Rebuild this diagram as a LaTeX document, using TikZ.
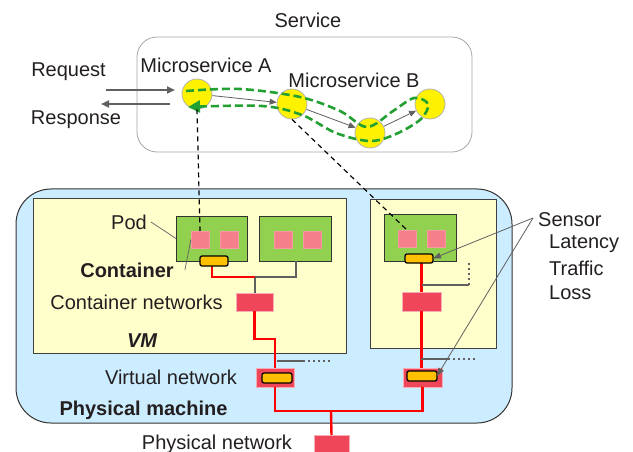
\documentclass[tikz,border=0pt]{standalone}
\usepackage{fontspec}
\setmainfont{Liberation Sans}
\usetikzlibrary{arrows.meta}
\definecolor{pmblue}{RGB}{204,236,255}
\definecolor{vmyellow}{RGB}{255,255,204}
\definecolor{podgreen}{RGB}{146,208,80}
\definecolor{ctpink}{RGB}{245,128,140}
\definecolor{netred}{RGB}{240,70,90}
\definecolor{snsorange}{RGB}{255,192,0}
\definecolor{flowgreen}{RGB}{34,160,50}
\definecolor{wiregray}{RGB}{96,96,96}
\definecolor{txtgray}{RGB}{35,31,32}
\tikzset{%
  box/.style      = {shape=rectangle, draw, inner sep=0pt, outer sep=0pt},%
  machine/.style  = {box, fill=pmblue, draw=black!80, line width=1pt, rounded corners=35pt},%
  service/.style  = {box, fill=white, draw=black!35, line width=0.8pt, rounded corners=20pt},%
  vm/.style       = {box, fill=vmyellow, draw=black!75, line width=1pt},%
  pod/.style      = {box, fill=podgreen, draw=black!80, line width=1pt},%
  ctr/.style      = {box, fill=ctpink, draw=ctpink!80!white, line width=0.6pt,%
                     minimum width=18, minimum height=17},%
  net/.style      = {box, fill=netred, draw=netred!45!white, line width=0.8pt},%
  sensor/.style   = {box, fill=snsorange, draw=black, line width=1.3pt,%
                     rounded corners=2pt, minimum width=28, minimum height=10},%
  ms/.style       = {circle, draw=black!30, fill=yellow, line width=0.8pt,%
                     inner sep=0pt, minimum size=30},%
  lbl/.style      = {inner sep=0pt, text=txtgray},%
  wire/.style     = {red, line width=2.4pt},%
  link/.style     = {wiregray, line width=2pt},%
  dotlink/.style  = {wiregray, line width=2pt, dash pattern=on 2pt off 3pt},%
  call/.style     = {wiregray, line width=0.8pt, -{Triangle[length=7pt,width=6pt]}},%
  reqarr/.style   = {wiregray, line width=2.2pt, -{Triangle[length=8pt,width=7pt]}},%
  trace/.style    = {black, line width=1.2pt, dash pattern=on 5pt off 4pt},%
  flow/.style     = {flowgreen, line width=2.6pt, dash pattern=on 8pt off 4pt,%
                     -{Triangle[length=12pt,width=12pt]}},%
  pointer/.style  = {wiregray, line width=0.7pt},%
  sensarr/.style  = {wiregray, line width=0.8pt, -{Triangle[length=8pt,width=6pt]}}%
}

\begin{document}
\begin{tikzpicture}[x=1pt, y=-1pt, every node/.style={font=\fontsize{20}{24}\selectfont}]
	\useasboundingbox (0,0) rectangle (633,452);
	% service layer
	\node[service, minimum width=335, minimum height=115] (svc) at (304.5,94.5) {};
	\node[lbl] (svclbl) at (308,20) {Service};
	\node[ms] (msA) at (197,94) {};
	\node[ms] (msB) at (292,104) {};
	\node[ms] (msC) at (370,133) {};
	\node[ms] (msD) at (430,104) {};
	\node[lbl] (msAlbl) at (206,65) {Microservice A};
	\node[lbl] (msBlbl) at (354,80) {Microservice B};
	\node[lbl] (req) at (68.5,72) {Request};
	\node[lbl] (resp) at (76,120) {Response};
	\coordinate (reqa) at (106,90);
	\coordinate (reqb) at (175,90);
	\coordinate (respa) at (170,104);
	\coordinate (respb) at (101,104);
	\draw[reqarr] (reqa) -- (reqb);
	\draw[reqarr] (respa) -- (respb);
	\draw[call] (msA) -- (msB);
	\draw[call] (msB) -- (msC);
	\draw[call] (msC) -- (msD);
	% request flow through the microservices
	\draw[flow] plot[smooth, tension=0.55] coordinates {(186,91) (240,89) (300,97)
		(340,111) (367,127) (393,111) (414,98) (428,104) (421,119) (396,134)
		(370,141) (336,133) (302,115) (262,106) (188,107)};
	% infrastructure
	\node[machine, minimum width=496, minimum height=234] (pm) at (264,306) {};
	\node[vm, minimum width=313, minimum height=155] (vm1) at (189.5,275.5) {};
	\node[vm, minimum width=126, minimum height=149] (vm2) at (433,273.5) {};
	\node[pod, minimum width=71, minimum height=45] (pod1) at (211.5,238.5) {};
	\node[pod, minimum width=72, minimum height=45] (pod2) at (295,238.5) {};
	\node[pod, minimum width=72, minimum height=47] (pod3) at (420,237.5) {};
	\node[ctr] (c11) at (200,239.5) {};
	\node[ctr] (c12) at (229,239.5) {};
	\node[ctr] (c21) at (283.5,239.5) {};
	\node[ctr] (c22) at (312.5,239.5) {};
	\node[ctr] (c31) at (407.5,239) {};
	\node[ctr] (c32) at (436,239) {};
	\node[net, minimum width=37, minimum height=18] (cn1) at (254.5,302) {};
	\node[net, minimum width=39, minimum height=19] (cn2) at (421.5,301.5) {};
	\node[net, minimum width=38, minimum height=19] (vn1) at (275,377.5) {};
	\node[net, minimum width=39, minimum height=19] (vn2) at (422.5,377.5) {};
	\node[net, minimum width=35, minimum height=24] (pn) at (331.5,447) {};
	% links
	\coordinate (j1) at (212,277);
	\coordinate (j2) at (254.5,277);
	\coordinate (j3) at (296,277);
	\coordinate (j4) at (254.5,339);
	\coordinate (j5) at (275,339);
	\coordinate (j6) at (275,411);
	\coordinate (j7) at (331,411);
	\coordinate (j8) at (422.5,411);
	\draw[link] (pod2.south -| j3) -- (j3) -- (j2) -- (cn1.north);
	\draw[wire] (j1 |- pod1.south) -- (j1) -- (j2);
	\draw[wire] (cn1.south) -- (j4) -- (j5) -- (vn1.north);
	\draw[wire] (vn1.south) -- (j6) -- (j8) -- (vn2.south);
	\draw[wire] (j7) -- (pn.north);
	\draw[wire] (pod3.south -| cn2) -- (cn2.north);
	\draw[wire] (cn2.south) -- (vn2.north -| cn2);
	% spare ports
	\coordinate (p1) at (277,361);
	\coordinate (p2) at (303,361);
	\coordinate (p3) at (332,361);
	\coordinate (p4) at (422,285);
	\coordinate (p5) at (469,285);
	\coordinate (p6) at (469,262);
	\coordinate (p7) at (421,359);
	\coordinate (p8) at (448,359);
	\coordinate (p9) at (476,359);
	\draw[link] (p1) -- (p2);
	\draw[dotlink] (p2) -- (p3);
	\draw[link] (p4) -- (p5);
	\draw[dotlink] (p5) -- (p6);
	\draw[link] (p7) -- (p8);
	\draw[dotlink] (p8) -- (p9);
	% sensors
	\node[sensor] (s1) at (214,261) {};
	\node[sensor, minimum height=9] (s3) at (419,258.5) {};
	\node[sensor, minimum width=30] (s4) at (422,376) {};
	\node[sensor, minimum width=30] (s2) at (277,378) {};
	% traces down to the containers
	\draw[trace] (msA.south) -- (c11.north);
	\draw[trace] (msB.south) -- (c31.north);
	% labels
	\node[lbl] (podlbl) at (129,222) {Pod};
	\node[lbl, font=\fontsize{20}{24}\selectfont\bfseries] (ctrlbl) at (127,270) {Container};
	\node[lbl] (cnlbl) at (136.5,302) {Container networks};
	\node[lbl, font=\fontsize{20}{24}\selectfont\bfseries\itshape] (vmlbl) at (142,341) {VM};
	\node[lbl] (vnlbl) at (171,377) {Virtual network};
	\node[lbl, font=\fontsize{20}{24}\selectfont\bfseries] (pmlbl) at (143.5,410) {Physical machine};
	\node[lbl] (pnlbl) at (217,444) {Physical network};
	\node[lbl, anchor=west] (snslbl) at (538,220) {Sensor};
	\node[lbl, anchor=west] (latlbl) at (549,244) {Latency};
	\node[lbl, anchor=west] (trflbl) at (549,268) {Traffic};
	\node[lbl, anchor=west] (losslbl) at (549,293) {Loss};
	\draw[pointer] (podlbl.east) ++(4,0) -- (pod1.west);
	\draw[pointer] (ctrlbl.east) ++(11,0) -- (c11.west);
	\coordinate (sx) at (533,218);
	\draw[sensarr] (sx) -- (s3.east);
	\draw[sensarr] (sx) -- (s4.east);
\end{tikzpicture}
\end{document}
